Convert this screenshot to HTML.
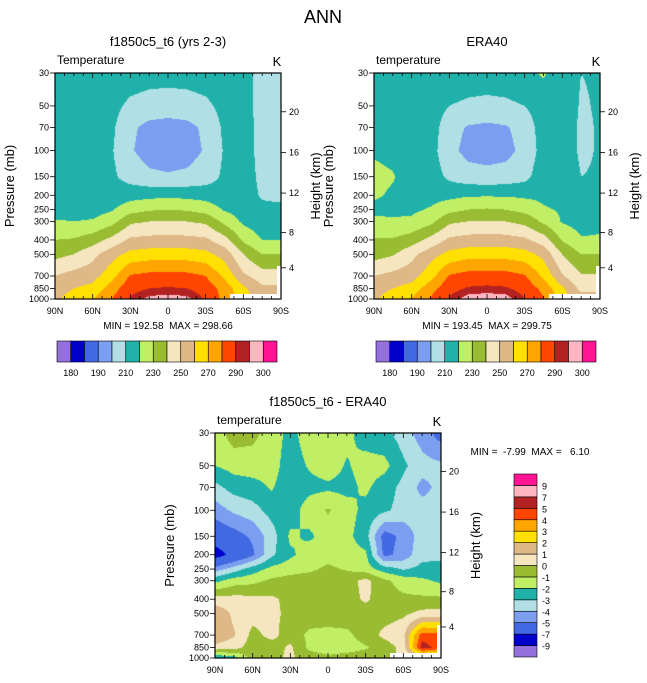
<!DOCTYPE html>
<html><head><meta charset="utf-8"><style>
body{margin:0;background:#fff;}
#wrap{position:relative;width:647px;height:683px;overflow:hidden;font-family:"Liberation Sans",sans-serif;}
canvas{position:absolute;}
svg{position:absolute;left:0;top:0;}
svg text{white-space:pre;}
</style></head><body>
<div id="wrap">
<canvas id="c1" style="left:55px;top:73px" width="226" height="226"></canvas>
<canvas id="c2" style="left:374px;top:73px" width="226" height="226"></canvas>
<canvas id="c3" style="left:215px;top:433px" width="226" height="225"></canvas>
<svg id="ov" width="647" height="683"></svg>
</div>
<script>
const lats = [90,75,60,45,30,15,0,-15,-30,-45,-60,-75,-90];
const plevs = [30,50,70,100,150,200,250,300,400,500,700,850,1000];
const modelT = [
[215,215,215,215,215,214,214,214,215,215,213,207,206],
[215,215,215,213,208,206,205,206,208,213,213,207,206],
[215,215,215,212,202,197,196,197,202,212,214,207,206],
[214,214,214,211,201,196,195,196,201,211,214,207,207],
[214,214,214,212,206,202,201,202,205,212,214,208,207],
[214,214,214,214,216,217,218,217,216,214,214,209,208],
[215,215,216,219,226,229,230,229,226,219,216,212,212],
[221,220,221,226,238,240,240,240,238,227,218,214,216],
[230,231,235,243,252,253,254,253,252,244,228,220,220],
[237,240,247,256,263,265,265,265,263,256,240,230,230],
[250,254,256,266,281,283,283,283,280,268,252,245,245],
[255,260,263,275,287,290,291,290,286,276,262,252,252],
[258,265,270,280,291,297,298,297,289,277,265,255,255]];
const eraT = [
[216,217,216,217,217,216,216,216,218,221,215,210,211],
[217,217,217,215,210,208,207,208,210,215,216,209,211],
[218,218,217,215,204,199,198,199,204,215,217,208,211],
[219,218,217,214,203,197,196,197,203,214,217,208,211],
[222,220.5,217,215,208,204,203,204,207,216,218,210,211],
[221,219,218,216,217,219,219,219,218,218,217,212,211],
[218,218,218,221,227,230,231,230,227,221,219,214,214],
[222,221,222,227,238,240,240,240,237,228,219,216,218],
[231,231,235,243,252,254,255,254,252,245,229,221,221],
[236,239,247,256,263,266,266,266,264,257,240,230,230],
[250,253,256,266,281,284,284,284,281,268,251,241,241],
[255,260,264,276,287,291,292,291,287,277,262,247,248],
[258,266,271,281,291,298,299,298,290,281,265,255,255]];
const diffT = [
[-1.5,-0.5,-0.7,-1.5,-2.3,-1.5,-1.5,-1.7,-2.5,-2.7,-3.5,-4.5,-5.5],
[-2.0,-1.6,-1.5,-1.6,-2.5,-1.9,-1.5,-2.1,-1.6,-1.7,-2.8,-3.6,-3.8],
[-3.3,-2.6,-2.4,-1.9,-2.6,-2.3,-2.2,-2.3,-1.8,-2.5,-3.3,-4.3,-3.7],
[-4.5,-3.8,-3.4,-2.6,-2.5,-1.5,-0.9,-1.6,-2.3,-2.8,-3.4,-3.6,-3.6],
[-6.0,-5.5,-4.8,-3.5,-1.8,-2.2,-1.5,-1.7,-2.6,-5.5,-4.7,-3.5,-3.5],
[-7.8,-6.5,-5.2,-3.2,-2.2,-1.5,-1.4,-1.6,-1.8,-5.3,-4.6,-3.3,-3.3],
[-4.5,-3.5,-2.5,-1.7,-1.4,-1.2,-0.8,-1.1,-1.5,-2.5,-3.1,-2.7,-2.6],
[-2.3,-1.5,-1.3,-0.8,-0.6,-0.5,-0.5,-0.4,0.3,-0.8,-1.4,-1.8,-2.2],
[0.4,0.4,0.3,0.2,-0.3,-0.4,-0.6,-0.5,0.2,-0.6,-0.8,-0.8,-0.8],
[1.8,0.8,0.4,0.2,-0.2,-0.5,-0.5,-0.5,-0.6,-0.5,-0.2,0.3,0.4],
[1.8,1.1,-0.3,0.3,-0.5,-1.2,-1.3,-1.2,-0.6,0.3,0.8,4.5,4.3],
[0.7,0.4,-0.5,-0.5,0.2,-1.2,-1.5,-1.4,-1.1,-0.6,0.4,5.5,4.5],
[-3.0,-2.5,-0.5,-0.3,0.2,-0.5,-0.8,-0.6,-0.5,-0.4,0.3,0.5,0.5]];
const tLevels = [180,185,190,200,210,220,230,240,250,260,270,280,290,295,300];
const tLabels = ["180","190","210","230","250","270","290","300"];
const dLevels = [-9,-7,-5,-4,-3,-2,-1,0,1,2,3,4,5,7,9];
const dLabels = ["-9","-7","-5","-4","-3","-2","-1","0","1","2","3","4","5","7","9"];
const colors = ["#9370db","#0000cd","#4169e1","#7b9ef0","#b0dfe5","#20b2aa","#c0ee64","#9abc32","#f5e6c0","#deb887","#ffe000","#ffa500","#ff4500","#b22222","#ffb6c1","#ff1493"];
const xTickLats = [90,60,30,0,-30,-60,-90];
const xTickLabels = ["90N","60N","30N","0","30S","60S","90S"];
const pTicks = [30,50,70,100,150,200,250,300,400,500,700,850,1000];
const kmTicks = [4,8,12,16,20];

const LN = Math.log(1000/30);
function xOf(lat,w){return (90-lat)/180*w;}
function yOf(p,h){return Math.log(p/30)/LN*h;}
function pOfKm(z){const m=z*1000;return m<11000?1013.25*Math.pow(1-2.2558e-5*m,5.2559):226.32*Math.exp(-(m-11000)/6341.6);}
function colorFor(v,lev){let i=0;while(i<lev.length&&v>=lev[i])i++;return colors[i];}
function drawField(id,data,lev){
  const c=document.getElementById(id),ctx=c.getContext('2d'),w=c.width,h=c.height;
  const rowY=plevs.map(p=>yOf(p,h));
  for(let py=0;py<h;py++){
    const y=py+0.5;let r=0;while(r<plevs.length-2&&y>rowY[r+1])r++;
    const fy=Math.min(1,Math.max(0,(y-rowY[r])/(rowY[r+1]-rowY[r])));
    for(let px=0;px<w;px++){
      const cx=(px+0.5)/w*(lats.length-1);let ci=Math.min(lats.length-2,Math.floor(cx));const fx=cx-ci;
      const v=(data[r][ci]*(1-fx)+data[r][ci+1]*fx)*(1-fy)+(data[r+1][ci]*(1-fx)+data[r+1][ci+1]*fx)*fy;
      ctx.fillStyle=colorFor(v,lev);ctx.fillRect(px,py,1,1);
    }
  }
}
drawField('c1',modelT,tLevels);
drawField('c2',eraT,tLevels);
drawField('c3',diffT,dLevels);

const NS='http://www.w3.org/2000/svg';
const ov=document.getElementById('ov');
function el(tag,attrs,txt){const e=document.createElementNS(NS,tag);for(const k in attrs)e.setAttribute(k,attrs[k]);if(txt!==undefined)e.textContent=txt;ov.appendChild(e);return e;}
function txt(x,y,s,size,anchor,name,rot){
  const e=el('text',{x:x,y:y,'font-size':size,'text-anchor':anchor||'middle','font-family':'Liberation Sans, sans-serif',fill:'#000'},s);
  if(rot)e.setAttribute('transform','rotate(-90 '+x+' '+y+')');
  
  
  return e;
}
function panel(x0,y0,w,h,title,sub,pref){
  const m=el('rect',{x:x0+w-51,y:y0+h-5,width:47,height:5,fill:'#fff'});
  
  
  const m2=el('rect',{x:x0+w-4,y:y0+h-33,width:4,height:33,fill:'#fff'});
  
  
  const f=el('rect',{x:x0,y:y0,width:w,height:h,fill:'none',stroke:'#000','stroke-width':1.2});
  
  
  txt(x0+w/2,y0-27,title,13,'middle',pref+'-title');
  txt(x0+2,y0-9,sub,12,'start',pref+'-variable-label');
  txt(x0+w-4,y0-7,'K',13,'middle',pref+'-units-label');
  for(let lat=90;lat>=-90;lat-=7.5){
    const x=x0+xOf(lat,w);const major=(lat%30===0);
    const t=el('line',{x1:x,x2:x,y1:y0,y2:y0+(major?5:3),stroke:'#000','stroke-width':0.8});
    
    
    const b=el('line',{x1:x,x2:x,y1:y0+h,y2:y0+h-(major?5:3),stroke:'#000','stroke-width':0.8});
    
    
  }
  xTickLats.forEach((lat,i)=>{txt(x0+xOf(lat,w),y0+h+15,xTickLabels[i],9,'middle','x-tick-label');});
  pTicks.forEach(p=>{
    const y=y0+yOf(p,h);
    const t=el('line',{x1:x0-5,x2:x0,y1:y,y2:y,stroke:'#000','stroke-width':0.8});
    
    
    txt(x0-6,y+3,String(p),9,'end','y-tick-label');
  });
  kmTicks.forEach(z=>{
    const y=y0+yOf(pOfKm(z),h);
    const t=el('line',{x1:x0+w,x2:x0+w+5,y1:y,y2:y,stroke:'#000','stroke-width':0.8});
    
    
    txt(x0+w+8,y+3,String(z),9,'start','height-tick-label');
  });
  txt(x0-41,y0+h/2,'Pressure (mb)',13,'middle',pref+'-y-axis-title',true);
  txt(x0+w+39,y0+h/2,'Height (km)',13,'middle',pref+'-y2-axis-title',true);
}
txt(323,23,'ANN',18,'middle','figure-title');
panel(55,73,226,226,'f1850c5_t6 (yrs 2-3)','Temperature','model');
panel(374,73,226,226,'ERA40','temperature','era40');
panel(215,433,226,225,'f1850c5_t6 - ERA40','temperature','diff');
txt(168,329,'MIN = 192.58  MAX = 298.66',10,'middle','model-min-max');
txt(487,329,'MIN = 193.45  MAX = 299.75',10,'middle','era40-min-max');
txt(530,455,'MIN =  -7.99  MAX =   6.10',10,'middle','diff-min-max');

function hbar(x0,y0,w,h,pref){
  const bw=w/colors.length;
  colors.forEach((c,i)=>{
    const r=el('rect',{x:x0+i*bw,y:y0,width:bw,height:h,fill:c,stroke:'#000','stroke-width':0.6});
    
    
  });
  tLabels.forEach((s,i)=>{txt(x0+(2*i+1)*bw,y0+h+14,s,9,'middle',pref+'-colorbar-label');});
}
hbar(57,341,220,21,'model');
hbar(376,341,220,21,'era40');
(function(){
  const x0=514,y0=474,w=23,h=183,bh=h/colors.length;
  colors.forEach((c,i)=>{
    const r=el('rect',{x:x0,y:y0+h-(i+1)*bh,width:w,height:bh,fill:c,stroke:'#000','stroke-width':0.6});
    
    
  });
  dLabels.forEach((s,i)=>{txt(x0+w+5,y0+h-(i+1)*bh+4,s,9,'start','diff-colorbar-label');});
})();
</script>
</body></html>
